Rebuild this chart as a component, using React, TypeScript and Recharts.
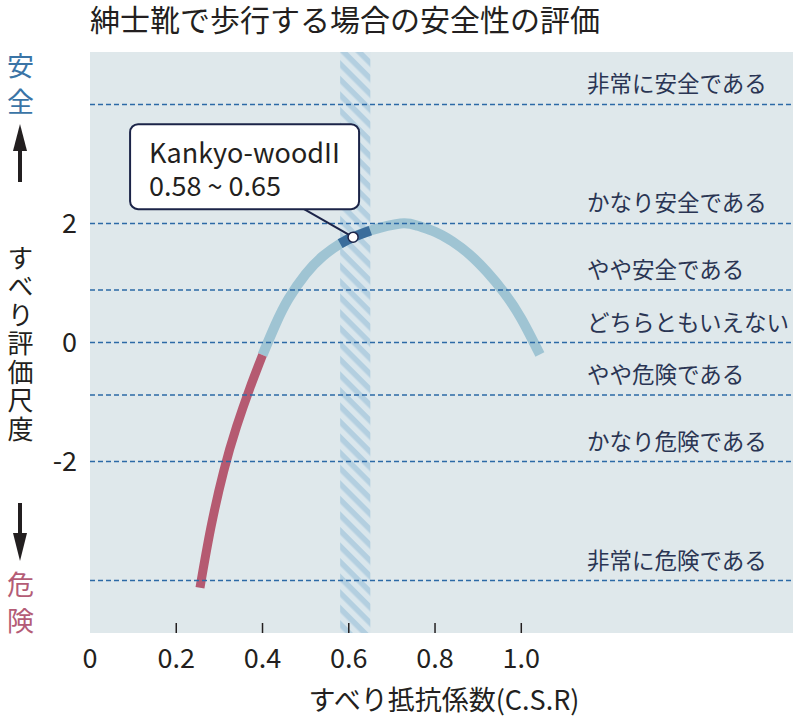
import {
  CartesianGrid,
  Line,
  LineChart,
  ReferenceArea,
  ReferenceDot,
  ReferenceLine,
  XAxis,
  YAxis,
} from 'recharts';

const FONT = "'Noto Sans CJK JP', 'Noto Sans', sans-serif";

// slip resistance (C.S.R) vs. slip evaluation score
const CSR = [0.255, 0.28, 0.31, 0.34, 0.37, 0.4, 0.43, 0.46, 0.5, 0.54, 0.58, 0.61, 0.65, 0.72, 0.76, 0.8, 0.84, 0.88, 0.92, 0.96, 1.0, 1.043];
const SCORE = [-4.12, -3.12, -2.16, -1.41, -0.78, -0.21, 0.3, 0.73, 1.15, 1.45, 1.66, 1.77, 1.88, 2.0, 1.96, 1.86, 1.7, 1.48, 1.19, 0.84, 0.4, -0.2];

const DANGER_LIMIT = 0.4;
const PRODUCT_RANGE = [0.58, 0.65];
const PRODUCT_NAME = 'Kankyo-woodII';
const PRODUCT_LABEL = '0.58 ~ 0.65';
const MARKER_CSR = 0.61;
const MARKER_SCORE = 1.77;

const LEVELS = [4, 2, 0.88, 0, -0.88, -2, -4];
const LEVEL_LABELS = [
  '非常に安全である',
  'かなり安全である',
  'やや安全である',
  'どちらともいえない',
  'やや危険である',
  'かなり危険である',
  '非常に危険である',
];

const X_TICKS = [0, 0.2, 0.4, 0.6, 0.8, 1.0];
const X_TICK_LABELS = ['0', '0.2', '0.4', '0.6', '0.8', '1.0'];
const Y_TICKS = [2, 0, -2];

const TITLE = '紳士靴で歩行する場合の安全性の評価';
const Y_TITLE = 'すべり評価尺度';
const X_TITLE = 'すべり抵抗係数(C.S.R)';
const SAFE_WORD = '安全';
const DANGER_WORD = '危険';

const points = CSR.map((x, i) => ({ x, y: SCORE[i] }));
const dangerData = points.filter((p) => p.x <= DANGER_LIMIT);
const safeData = points.filter((p) => p.x >= DANGER_LIMIT);
const productData = points.filter((p) => p.x >= PRODUCT_RANGE[0] && p.x <= PRODUCT_RANGE[1]);

function XTick({ x, y, payload }: any) {
  const i = X_TICKS.indexOf(payload.value);
  return (
    <g>
      {payload.value !== 0 && (
        <line x1={x} x2={x} y1={y - 10} y2={y} stroke="#231f20" strokeWidth={1.5} />
      )}
      <text x={x} y={y + 35} textAnchor="middle" fontSize={27} fill="#231f20" fontFamily={FONT}>
        {X_TICK_LABELS[i]}
      </text>
    </g>
  );
}

function LevelLabel({ viewBox, text }: any) {
  if (!viewBox) return null;
  return (
    <text x={viewBox.x + 497} y={viewBox.y - 12} fontSize={22.5} fill="#2a3553" fontFamily={FONT}>
      {text}
    </text>
  );
}

function Callout({ cx, cy }: any) {
  if (cx == null || cy == null) return null;
  return (
    <g>
      <line x1={cx - 49} y1={cy - 28} x2={cx} y2={cy} stroke="#1c2448" strokeWidth={2} />
      <rect
        x={cx - 223}
        y={cy - 113}
        width={229}
        height={85}
        rx={8}
        fill="#fff"
        stroke="#1c2448"
        strokeWidth={2}
      />
      <text x={cx - 204} y={cy - 74} fontSize={27} fill="#231f20" fontFamily={FONT}>
        {PRODUCT_NAME}
      </text>
      <text x={cx - 204} y={cy - 41} fontSize={27} fill="#231f20" fontFamily={FONT}>
        {PRODUCT_LABEL}
      </text>
      <circle cx={cx} cy={cy} r={5} fill="#fff" stroke="#1c2448" strokeWidth={1.5} />
    </g>
  );
}

const vertical = { writingMode: 'vertical-rl', textOrientation: 'upright' } as any;

export default function App() {
  return (
    <div style={{ position: 'absolute', left: 0, top: 0, width: 800, height: 718, background: '#fff' }}>
      <LineChart
        width={800}
        height={718}
        margin={{ top: 52, right: 7, bottom: 0, left: 0 }}
        style={{ position: 'absolute', left: 0, top: 0 }}
      >
        <defs>
          <pattern id="hatch" patternUnits="userSpaceOnUse" width={11} height={11} patternTransform="rotate(45)">
            <rect width={11} height={11} fill="#d9e6ec" />
            <rect width={11} height={5.5} fill="#b3cfe0" />
          </pattern>
        </defs>
        <CartesianGrid horizontal={false} vertical={false} fill="#dfe8eb" />
        <XAxis
          type="number"
          dataKey="x"
          domain={[0, 1.63]}
          ticks={X_TICKS}
          height={85}
          axisLine={false}
          tickLine={false}
          tickSize={0}
          tickMargin={0}
          tick={<XTick />}
          allowDataOverflow
        />
        <YAxis
          type="number"
          dataKey="y"
          domain={[-4.88, 4.88]}
          ticks={Y_TICKS}
          width={90}
          axisLine={false}
          tickLine={false}
          tickSize={0}
          tickMargin={13}
          tick={{ fontSize: 27, fill: '#231f20', fontFamily: FONT }}
          allowDataOverflow
        />
        <ReferenceArea
          x1={PRODUCT_RANGE[0]}
          x2={PRODUCT_RANGE[1]}
          y1={-4.88}
          y2={4.88}
          fill="url(#hatch)"
          fillOpacity={1}
          stroke="none"
        />
        <Line
          data={safeData}
          dataKey="y"
          type="natural"
          stroke="#9fc4d3"
          strokeWidth={10}
          dot={false}
          isAnimationActive={false}
        />
        <Line
          data={dangerData}
          dataKey="y"
          type="natural"
          stroke="#b55a71"
          strokeWidth={9}
          dot={false}
          isAnimationActive={false}
        />
        <Line
          data={productData}
          dataKey="y"
          type="natural"
          stroke="#3b6d9b"
          strokeWidth={10}
          dot={false}
          isAnimationActive={false}
        />
        {LEVELS.map((v, i) => (
          <ReferenceLine
            key={v}
            y={v}
            stroke="#2c6aa6"
            strokeWidth={1.5}
            strokeDasharray="5 3"
            label={<LevelLabel text={LEVEL_LABELS[i]} />}
          />
        ))}
        <ReferenceDot x={MARKER_CSR} y={MARKER_SCORE} r={5} shape={(p: any) => <Callout {...p} />} />
      </LineChart>
      <svg
        width={800}
        height={718}
        style={{ position: 'absolute', left: 0, top: 0, pointerEvents: 'none' }}
        fontFamily={FONT}
      >
        <text x={90} y={31} fontSize={30} fill="#231f20">
          {TITLE}
        </text>
        <text x={20.5} y={52} fontSize={27} fill="#3a74a6" letterSpacing={9} style={vertical}>
          {SAFE_WORD}
        </text>
        <polygon points="20,124 13,151 27,151" fill="#231f20" />
        <rect x={18} y={148} width={4} height={34} fill="#231f20" />
        <text x={20.5} y={245} fontSize={26} fill="#231f20" letterSpacing={2.5} style={vertical}>
          {Y_TITLE}
        </text>
        <rect x={18} y={503} width={4} height={32} fill="#231f20" />
        <polygon points="13,533 27,533 20,561" fill="#231f20" />
        <text x={20.5} y={571} fontSize={27} fill="#b45c76" letterSpacing={9} style={vertical}>
          {DANGER_WORD}
        </text>
        <text x={444} y={698} fontSize={27} fill="#231f20" textAnchor="middle" dominantBaseline="central">
          {X_TITLE}
        </text>
      </svg>
    </div>
  );
}
